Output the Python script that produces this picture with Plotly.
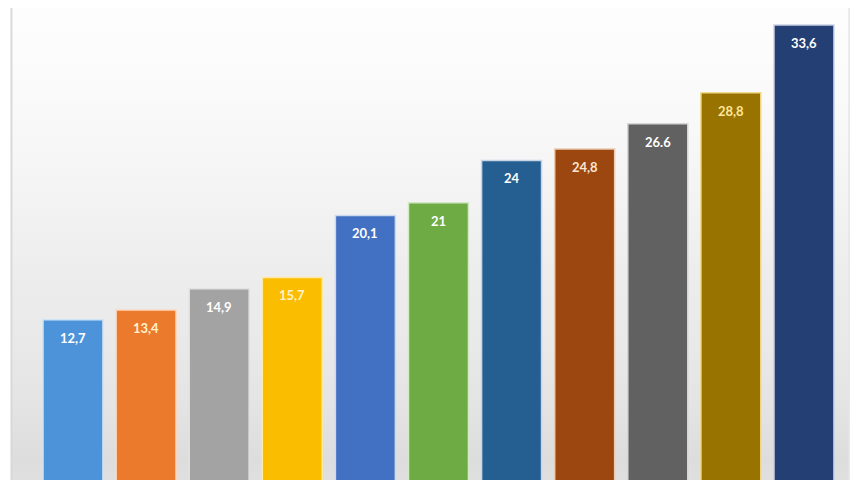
import plotly.graph_objects as go

categories = ["c1", "c2", "c3", "c4", "c5", "c6", "c7", "c8", "c9", "c10", "c11"]
values = [12.7, 13.4, 14.9, 15.7, 20.1, 21, 24, 24.8, 26.6, 28.8, 33.6]
labels = ["12,7", "13,4", "14,9", "15,7", "20,1", "21", "24", "24,8", "26.6", "28,8", "33,6"]

bar_colors = ["#4d93d9", "#ec7a2c", "#a3a3a3", "#fbbd00", "#4270c2", "#6fab45",
              "#255e91", "#9c470f", "#616161", "#987300", "#243f74"]
edge_colors = ["#cfe3f5", "#fbd9bf", "#e2e2e2", "#ffe9a6", "#cdd9ef", "#d4e8c6",
               "#c6d6e6", "#eccbb3", "#d6d6d6", "#f3dc8a", "#c9d1e2"]
label_colors = ["#ffffff", "#fff2cc", "#ffffff", "#fff2cc", "#ffffff", "#ffffff",
                "#ffffff", "#fbe5d6", "#ffffff", "#ffe699", "#ffffff"]

fig = go.Figure()
fig.add_trace(go.Bar(
    x=categories, y=values,
    marker=dict(color=bar_colors, line=dict(color=edge_colors, width=1.5)),
    hoverinfo="skip", showlegend=False,
))

# label near the top of each bar
for c, v, t, col in zip(categories, values, labels, label_colors):
    fig.add_annotation(x=c, y=v, text="<b>" + t + "</b>", showarrow=False,
                       yshift=-18, font=dict(family="Lato", size=13, color=col))

# soft grey gradient background inside the frame
shapes = []
stops = [(0.0, 224), (0.06, 221), (0.15, 227), (0.3, 233), (0.45, 237),
         (0.6, 243), (0.75, 248), (0.9, 252), (1.0, 253)]
n = 60
for k in range(n):
    y0 = k / n
    y1 = (k + 1) / n
    ym = (y0 + y1) / 2
    for (a, ga), (b, gb) in zip(stops[:-1], stops[1:]):
        if a <= ym <= b:
            g = int(round(ga + (gb - ga) * (ym - a) / (b - a)))
            break
    shapes.append(dict(type="rect", xref="paper", yref="paper", x0=0.004, x1=0.978,
                       y0=y0, y1=y1, fillcolor="rgb(%d,%d,%d)" % (g, g, g),
                       line=dict(width=0), layer="below"))
shapes.append(dict(type="line", xref="paper", yref="paper", x0=0.004, x1=0.004,
                   y0=0, y1=1, line=dict(color="#d9d9d9", width=2)))
shapes.append(dict(type="line", xref="paper", yref="paper", x0=0.978, x1=0.978,
                   y0=0, y1=1, line=dict(color="#e4e4e4", width=1.5)))

fig.update_layout(
    width=860, height=480,
    margin=dict(l=0, r=0, t=0, b=0),
    paper_bgcolor="white",
    plot_bgcolor="rgba(0,0,0,0)",
    bargap=0.18,
    shapes=shapes,
    xaxis=dict(type="category", range=[-0.889, 10.876], visible=False, fixedrange=True),
    yaxis=dict(range=[0.78, 34.8], visible=False, fixedrange=True),
)

fig.write_html("out.html")
